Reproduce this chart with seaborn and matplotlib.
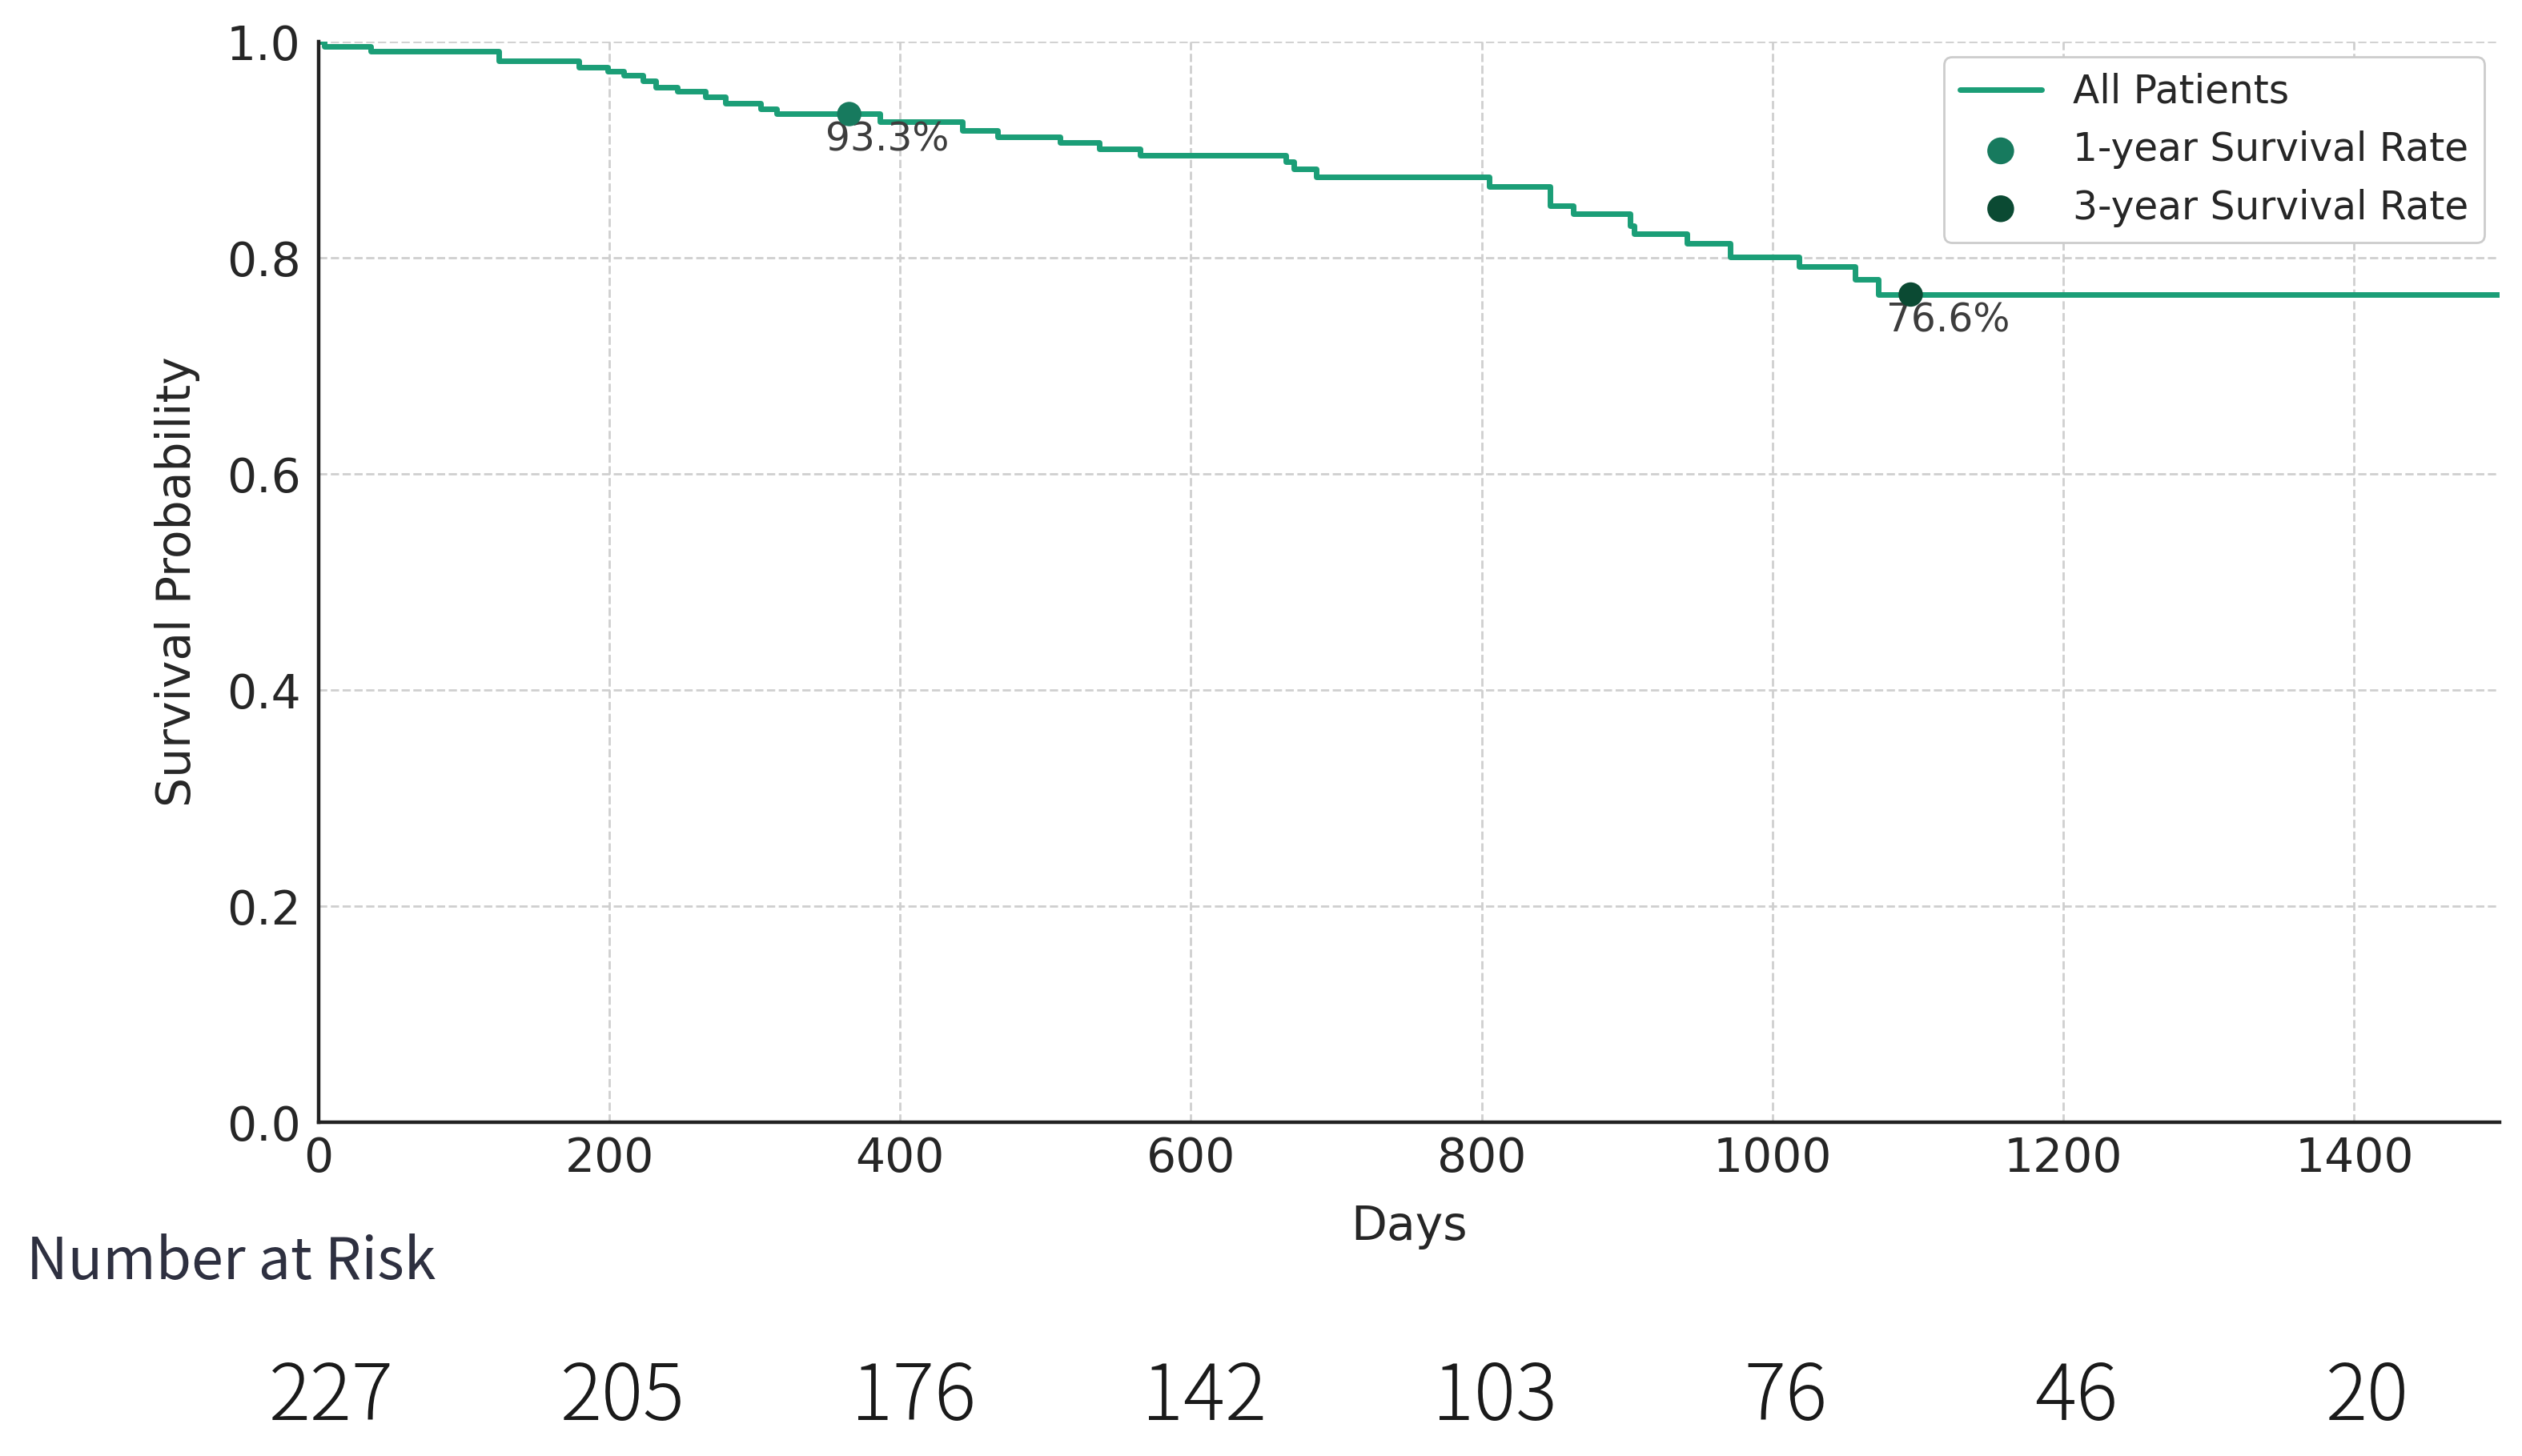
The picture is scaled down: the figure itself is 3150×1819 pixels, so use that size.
import matplotlib
matplotlib.use('Agg')
import matplotlib.pyplot as plt
import matplotlib.transforms as mtransforms
import seaborn as sns
import pandas as pd

# Kaplan-Meier steps (day of event, survival after it)
event_days = [0, 4, 36, 124, 179, 199, 210, 223, 232, 247, 266, 280, 304, 315,
              386, 443, 467, 510, 537, 565, 665, 671, 686, 805, 847, 863, 902,
              905, 941, 971, 1018, 1057, 1073, 1500]
survival = [1.0, 0.9956, 0.9912, 0.9826, 0.9764, 0.9727, 0.9689, 0.9640, 0.9578,
            0.9540, 0.9486, 0.9429, 0.9379, 0.9330, 0.9262, 0.918, 0.912, 0.907,
            0.901, 0.895, 0.889, 0.882, 0.875, 0.866, 0.848, 0.841, 0.830, 0.822,
            0.813, 0.801, 0.792, 0.780, 0.766, 0.766]

rate_days = [365, 1095]
rate_values = [0.933, 0.766]
rate_labels = ['1-year Survival Rate', '3-year Survival Rate']
rate_colors = ['#177a5e', '#0b4a33']

risk_days = [0, 200, 400, 600, 800, 1000, 1200, 1400]
at_risk = [227, 205, 176, 142, 103, 76, 46, 20]

km_df = pd.DataFrame({'Days': event_days, 'Survival Probability': survival})

sns.set_theme(style='white')
plt.rcParams['font.family'] = ['DejaVu Sans']
text_col = '#262626'

fig = plt.figure(figsize=(15.75, 9.095), dpi=200)
ax = fig.add_axes([0.1263, 0.2292, 0.8648, 0.7422])

sns.lineplot(data=km_df, x='Days', y='Survival Probability', drawstyle='steps-post',
             color='#1b9e77', linewidth=2.5, label='All Patients', ax=ax,
             estimator=None, sort=False)

for d, v, lab, c in zip(rate_days, rate_values, rate_labels, rate_colors):
    sns.scatterplot(x=[d], y=[v], color=c, s=120, edgecolor='none', label=lab, ax=ax, zorder=5)
    ax.annotate(f'{v * 100:.1f}%', xy=(d, v), xytext=(17, -3), textcoords='offset points',
                ha='center', va='top', fontsize=17.5, color='#3d3d3d')

ax.set_xlim(0, 1500)
ax.set_ylim(0, 1.0)
ax.set_xticks(risk_days)
ax.set_yticks([0.0, 0.2, 0.4, 0.6, 0.8, 1.0])
ax.set_yticklabels([f'{t:.1f}' for t in [0.0, 0.2, 0.4, 0.6, 0.8, 1.0]])
ax.tick_params(axis='both', labelsize=21, colors=text_col, direction='in', length=6, width=1)
ax.tick_params(axis='y', pad=8)
ax.tick_params(axis='x', pad=6)
ax.set_xlabel('Days', fontsize=21, color=text_col, labelpad=10)
ax.set_ylabel('Survival Probability', fontsize=21, color=text_col, labelpad=12)

ax.grid(True, linestyle='--', color='#cfcfcf', linewidth=1.0)
ax.set_axisbelow(True)
sns.despine(ax=ax)
for s in ['left', 'bottom']:
    ax.spines[s].set_color('#222222')
    ax.spines[s].set_linewidth(1.6)

leg = ax.legend(loc='upper right', fontsize=17.5, frameon=True, fancybox=True,
                edgecolor='#cccccc', framealpha=1.0, borderaxespad=0.4, handlelength=2.1,
                markerscale=1.1)
for t in leg.get_texts():
    t.set_color(text_col)

# number-at-risk table under the axis
fig.text(0.0105, 0.133, 'Number at Risk', fontsize=25.8, color='#2e3040',
         family=['Noto Sans CJK JP', 'DejaVu Sans'], ha='left', va='center')
trans = mtransforms.blended_transform_factory(ax.transData, fig.transFigure)
for d, n in zip(risk_days, at_risk):
    ax.text(d + 9, 0.040, str(n), transform=trans, fontsize=35, color='#1a1a1a',
            family=['Noto Sans CJK JP', 'DejaVu Sans'], fontweight='light',
            ha='center', va='center', clip_on=False)

fig.savefig('out.png', dpi=200)
